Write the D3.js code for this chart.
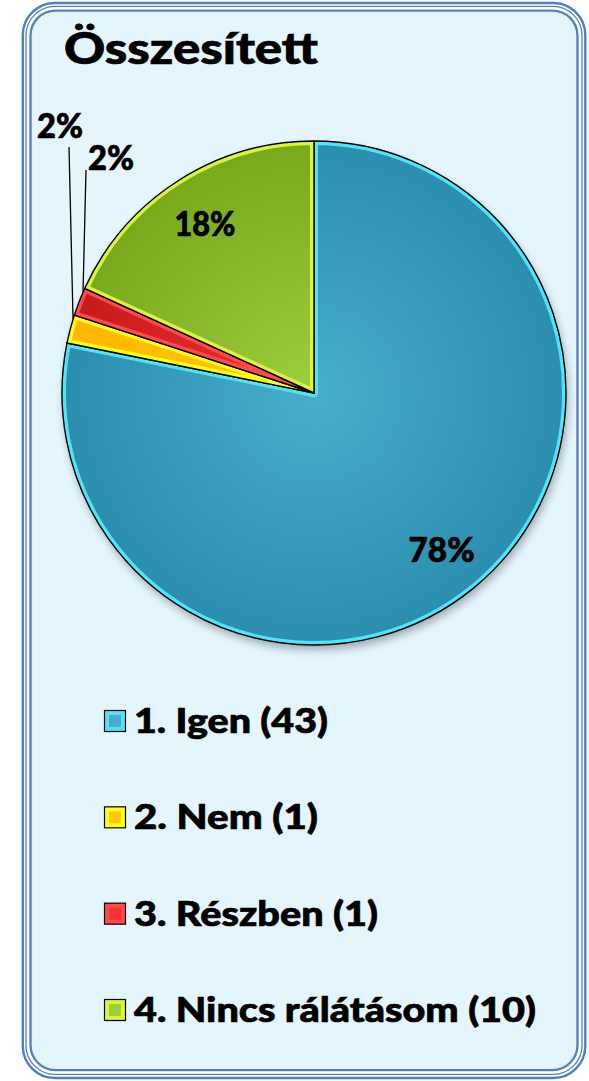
<html>
	<head>
		<meta charset="utf-8">
		<script src="https://d3js.org/d3.v7.min.js"></script>
		<style>
			body { margin: 0; background: #ffffff; }
			svg { display: block; }
			text { font-family: Lato, "Open Sans", sans-serif; font-weight: 900; fill: #000; stroke: #000; stroke-width: 0.7px; }
		</style>
	</head>
	<body>
		<svg id="chart"></svg>
		<script>
			// data
			var title = "Összesített";
			var categories = ["1. Igen", "2. Nem", "3. Részben", "4. Nincs rálátásom"];
			var counts = [43, 1, 1, 10];

			// slice colours: fill centre, fill edge, bevel border
			var fillIn   = ["#48accb", "#ffc800", "#f03434", "#9ccf40"];
			var fillOut  = ["#2b8eaf", "#ffb800", "#c81a1a", "#78a81c"];
			var bevel    = ["#4fe4f7", "#ffff10", "#ff4a4a", "#dcf43a"];

			var W = 589, H = 1081;
			var cx = 314, cy = 393, r = 252;

			var svg = d3.select("#chart").attr("width", W).attr("height", H);
			var defs = svg.append("defs");

			// frame: three rounded lines
			svg.append("rect").attr("x", 22.8).attr("y", 3).attr("width", 562.5).attr("height", 1075)
				.attr("rx", 32).attr("fill", "#ffffff").attr("stroke", "#4f81bd").attr("stroke-width", 2.4);
			svg.append("rect").attr("x", 26).attr("y", 6.4).attr("width", 556).attr("height", 1068)
				.attr("rx", 29).attr("fill", "none").attr("stroke", "#4f81bd").attr("stroke-width", 1.3);
			svg.append("rect").attr("x", 30.5).attr("y", 10.6).attr("width", 547).attr("height", 1059.5)
				.attr("rx", 25).attr("fill", "#e5f5fc").attr("stroke", "#4f81bd").attr("stroke-width", 2.3);

			svg.append("text").attr("x", 64).attr("y", 64)
				.style("font-size", "43px").attr("textLength", 254).attr("lengthAdjust", "spacingAndGlyphs")
				.text(title);

			var total = d3.sum(counts);
			var pie = d3.pie().sort(null).value(function(d){ return d; });
			var arcs = pie(counts);
			var arc = d3.arc().innerRadius(0).outerRadius(r);

			// shadow
			var flt = defs.append("filter").attr("id", "sh").attr("x", "-20%").attr("y", "-20%").attr("width", "140%").attr("height", "140%");
			flt.append("feGaussianBlur").attr("stdDeviation", 4);
			svg.append("circle").attr("cx", cx + 2).attr("cy", cy + 5).attr("r", r)
				.attr("fill", "#000").attr("opacity", 0.3).attr("filter", "url(#sh)");

			var g = svg.append("g").attr("transform", "translate(" + cx + "," + cy + ")");

			arcs.forEach(function(d, i){
				var gr = defs.append("radialGradient").attr("id", "gr" + i)
					.attr("gradientUnits", "userSpaceOnUse").attr("cx", 0).attr("cy", 0).attr("r", r);
				gr.append("stop").attr("offset", "0%").attr("stop-color", fillIn[i]);
				gr.append("stop").attr("offset", "100%").attr("stop-color", fillOut[i]);
				defs.append("clipPath").attr("id", "cp" + i).append("path").attr("d", arc(d));

				g.append("path").attr("d", arc(d)).attr("fill", "url(#gr" + i + ")");
				g.append("path").attr("d", arc(d)).attr("fill", "none")
					.attr("stroke", bevel[i]).attr("stroke-width", 8)
					.attr("stroke-linejoin", "round").attr("clip-path", "url(#cp" + i + ")");
				g.append("path").attr("d", arc(d)).attr("fill", "none")
					.attr("stroke", "#000").attr("stroke-width", 1.4).attr("stroke-linejoin", "round");
			});

			// percentage labels
			var pct = counts.map(function(v){ return Math.round(v / total * 100) + "%"; });
			var labelArc = d3.arc().innerRadius(r * 0.8).outerRadius(r * 0.8);
			// inside labels for big slices, outside with leaders for the small ones
			var outside = { 1: { x: 60, y: 138, lx: 69, ly: 147 }, 2: { x: 111, y: 170, lx: 86, ly: 170 } };

			arcs.forEach(function(d, i){
				if (outside[i]) {
					var o = outside[i];
					var a = d.endAngle - 0.15 * (d.endAngle - d.startAngle);
					g.append("line")
						.attr("x1", o.lx - cx).attr("y1", o.ly - cy)
						.attr("x2", Math.sin(a) * r).attr("y2", -Math.cos(a) * r)
						.attr("stroke", "#000").attr("stroke-width", 1.3);
					svg.append("text").attr("x", o.x).attr("y", o.y)
						.attr("text-anchor", "middle").style("font-size", "35px")
						.attr("textLength", 46).attr("lengthAdjust", "spacingAndGlyphs")
						.text(pct[i]);
				} else {
					var c = labelArc.centroid(d);
					g.append("text").attr("x", c[0]).attr("y", c[1] + 12.5)
						.attr("text-anchor", "middle").style("font-size", "35px")
						.attr("textLength", i === 0 ? 66 : 61).attr("lengthAdjust", "spacingAndGlyphs")
						.text(pct[i]);
				}
			});

			// legend
			var legY = d3.scalePoint().domain(d3.range(categories.length)).range([733, 1022]);
			var legW = [194, 184, 244, 402];
			categories.forEach(function(c, i){
				var y = legY(i);
				svg.append("rect").attr("x", 104.5).attr("y", y - 22.5).attr("width", 21).attr("height", 21)
					.attr("fill", bevel[i]).attr("stroke", "#000").attr("stroke-width", 1.2);
				svg.append("rect").attr("x", 109).attr("y", y - 18).attr("width", 12).attr("height", 12)
					.attr("fill", fillIn[i]);
				svg.append("text").attr("x", 134).attr("y", y)
					.style("font-size", "34px")
					.attr("textLength", legW[i]).attr("lengthAdjust", "spacingAndGlyphs")
					.text(c + " (" + counts[i] + ")");
			});
		</script>
	</body>
</html>
